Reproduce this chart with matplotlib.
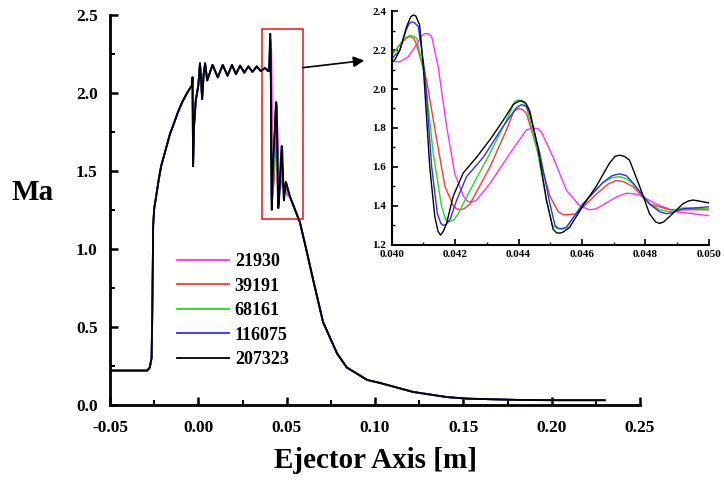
import numpy as np
import matplotlib.pyplot as plt
from matplotlib.patches import Rectangle
from matplotlib.ticker import MultipleLocator

plt.rcParams['font.family'] = ['Liberation Serif', 'DejaVu Serif']
plt.rcParams['font.weight'] = 'bold'

# shared part of the profile, before the shock train (x < 0.040)
x_up = [-0.050, -0.029, -0.0275, -0.0265, -0.0262, -0.0258, -0.0256, -0.0250, -0.0240,
        -0.0225, -0.0211, -0.0189, -0.0160, -0.0143, -0.0118, -0.0092, -0.0064, -0.0036,
        -0.0033, -0.0030, -0.0025, -0.0015, 0.0000, 0.0009, 0.0015, 0.0021, 0.0030, 0.0038,
        0.0050, 0.0080, 0.0110, 0.0138, 0.0165, 0.0190, 0.0213, 0.0236, 0.0260, 0.0283,
        0.0306, 0.0330, 0.0353, 0.0377, 0.0395]
ma_up = [0.22, 0.22, 0.24, 0.30, 0.50, 0.90, 1.15, 1.26, 1.33,
         1.44, 1.53, 1.62, 1.74, 1.79, 1.87, 1.94, 2.00, 2.05,
         2.10, 1.53, 1.78, 1.95, 2.05, 2.19, 2.10, 1.96, 2.12, 2.19,
         2.08, 2.18, 2.10, 2.18, 2.11, 2.18, 2.12, 2.175, 2.13, 2.17,
         2.135, 2.17, 2.14, 2.16, 2.14]

# shared part after the shock train (x > 0.050)
x_down = [0.052, 0.0575, 0.061, 0.065, 0.0706, 0.0785, 0.084, 0.0955, 0.103,
          0.1215, 0.1407, 0.152, 0.180, 0.200, 0.230]
ma_down = [1.33, 1.17, 1.00, 0.80, 0.53, 0.33, 0.24, 0.16, 0.14,
           0.083, 0.05, 0.04, 0.032, 0.030, 0.030]

# shock train region 0.040 - 0.050, one profile per mesh
labels = ['21930', '39191', '68161', '116075', '207323']
colors = ['#ff33ff', '#ff3838', '#22dd22', '#3030ff', 'black']

x_21930 = [0.0400, 0.04026, 0.04052, 0.04079, 0.04095, 0.04105, 0.04116, 0.04126, 0.04147,
           0.04173, 0.04199, 0.04226, 0.04238, 0.04247, 0.04257, 0.04268, 0.0431, 0.04373,
           0.04425, 0.04446, 0.04462, 0.04472, 0.04509, 0.04551, 0.04593, 0.04624, 0.04645,
           0.04666, 0.04708, 0.0474, 0.0476, 0.04782, 0.04834, 0.04897, 0.0500]
ma_21930 = [2.14, 2.14, 2.165, 2.23, 2.275, 2.285, 2.283, 2.27, 2.11,
            1.81, 1.565, 1.45, 1.425, 1.42, 1.422, 1.43, 1.515, 1.67,
            1.79, 1.80, 1.795, 1.78, 1.65, 1.48, 1.40, 1.38, 1.385,
            1.405, 1.445, 1.465, 1.463, 1.455, 1.41, 1.37, 1.35]

x_39191 = [0.0400, 0.04026, 0.04045, 0.04058, 0.0407, 0.04079, 0.0411, 0.04142, 0.04168,
           0.04194, 0.04205, 0.04215, 0.04228, 0.04247, 0.0431, 0.04362, 0.04385, 0.04399,
           0.04412, 0.04425, 0.04457, 0.04499, 0.04525, 0.0454, 0.04558, 0.04582, 0.04645,
           0.04685, 0.04708, 0.0473, 0.0476, 0.04813, 0.04876, 0.0500]
ma_39191 = [2.18, 2.225, 2.26, 2.27, 2.26, 2.225, 2.045, 1.74, 1.50,
            1.40, 1.385, 1.38, 1.385, 1.41, 1.60, 1.79, 1.885, 1.90,
            1.895, 1.875, 1.70, 1.45, 1.37, 1.355, 1.355, 1.36, 1.46,
            1.515, 1.53, 1.525, 1.50, 1.41, 1.38, 1.38]

x_68161 = [0.0400, 0.04026, 0.04045, 0.04058, 0.0407, 0.04079, 0.04105, 0.04131, 0.04157,
           0.0417, 0.04184, 0.04197, 0.0421, 0.04247, 0.0431, 0.04362, 0.04388, 0.04399,
           0.04412, 0.04425, 0.04457, 0.04488, 0.04507, 0.04519, 0.04535, 0.04551, 0.04603,
           0.04666, 0.04695, 0.04719, 0.0474, 0.0476, 0.04813, 0.04845, 0.04876, 0.04918, 0.0500]
ma_68161 = [2.17, 2.23, 2.265, 2.275, 2.27, 2.26, 2.06, 1.67, 1.40,
            1.33, 1.32, 1.33, 1.36, 1.48, 1.67, 1.84, 1.935, 1.945,
            1.935, 1.91, 1.70, 1.43, 1.30, 1.285, 1.282, 1.29, 1.41,
            1.52, 1.545, 1.55, 1.54, 1.515, 1.41, 1.38, 1.37, 1.39, 1.385]

x_116075 = [0.0400, 0.04026, 0.04045, 0.04055, 0.04063, 0.04072, 0.04084, 0.04105, 0.04126,
            0.04144, 0.04155, 0.04163, 0.04172, 0.04184, 0.04205, 0.04236, 0.04289, 0.04352,
            0.04394, 0.0441, 0.04424, 0.04435, 0.04467, 0.04499, 0.04515, 0.04525, 0.04537,
            0.04551, 0.04603, 0.04666, 0.04695, 0.04719, 0.0474, 0.0476, 0.04813, 0.04845,
            0.04866, 0.04885, 0.04918, 0.0500]
ma_116075 = [2.155, 2.20, 2.30, 2.335, 2.345, 2.34, 2.32, 2.08, 1.60,
             1.36, 1.31, 1.30, 1.305, 1.33, 1.43, 1.55, 1.65, 1.81,
             1.905, 1.92, 1.91, 1.875, 1.67, 1.41, 1.30, 1.285, 1.282,
             1.29, 1.41, 1.52, 1.555, 1.565, 1.555, 1.52, 1.41, 1.37,
             1.36, 1.365, 1.385, 1.395]

x_207323 = [0.0400, 0.0401, 0.04026, 0.04047, 0.0406, 0.04068, 0.04076, 0.04088, 0.0410,
            0.0412, 0.04136, 0.04146, 0.04154, 0.04163, 0.04173, 0.04194, 0.04226, 0.04268,
            0.0431, 0.04352, 0.04383, 0.04398, 0.04409, 0.04422, 0.04435, 0.04462, 0.04488,
            0.04509, 0.0452, 0.0453, 0.0454, 0.04561, 0.04603, 0.04645, 0.04687, 0.04705,
            0.04719, 0.04733, 0.0475, 0.04782, 0.04813, 0.04832, 0.04845, 0.04858, 0.04876,
            0.04918, 0.04935, 0.0495, 0.0497, 0.0500]
ma_207323 = [2.14, 2.15, 2.20, 2.32, 2.37, 2.38, 2.375, 2.33, 2.11,
             1.60, 1.345, 1.27, 1.25, 1.27, 1.31, 1.45, 1.57, 1.65,
             1.74, 1.84, 1.92, 1.935, 1.94, 1.93, 1.89, 1.69, 1.43,
             1.28, 1.262, 1.26, 1.265, 1.29, 1.40, 1.50, 1.62, 1.655,
             1.66, 1.655, 1.635, 1.50, 1.36, 1.318, 1.31, 1.318, 1.345,
             1.41, 1.425, 1.43, 1.425, 1.415]

x_zoom = [x_21930, x_39191, x_68161, x_116075, x_207323]
ma_zoom = [ma_21930, ma_39191, ma_68161, ma_116075, ma_207323]

fig = plt.figure(figsize=(7.24, 4.82), dpi=100)
ax = fig.add_axes([0.152, 0.160, 0.732, 0.809])

for lab, c, xs, ys in zip(labels, colors, x_zoom, ma_zoom):
    x_all = np.concatenate([x_up, xs, x_down])
    y_all = np.concatenate([ma_up, ys, ma_down])
    ax.plot(x_all, y_all, color=c, lw=1.3, label=lab)

ax.set_xlim(-0.05, 0.25)
ax.set_ylim(0, 2.5)
ax.xaxis.set_major_locator(MultipleLocator(0.05))
ax.xaxis.set_minor_locator(MultipleLocator(0.025))
ax.yaxis.set_major_locator(MultipleLocator(0.5))
ax.yaxis.set_minor_locator(MultipleLocator(0.25))
ax.set_xticklabels([f'{v:.2f}' for v in ax.get_xticks()])
ax.set_yticklabels([f'{v:.1f}' for v in ax.get_yticks()])
ax.tick_params(which='major', direction='in', length=6, width=1.8, labelsize=12.5, pad=9)
ax.tick_params(which='minor', direction='in', length=3.5, width=1.5)
ax.tick_params(axis='x', pad=11)
for s in ['top', 'right']:
    ax.spines[s].set_visible(False)
for s in ['left', 'bottom']:
    ax.spines[s].set_linewidth(2)

ax.set_xlabel('Ejector Axis [m]', fontsize=21, fontweight='bold', labelpad=8)
fig.text(0.045, 0.60, 'Ma', fontsize=21, fontweight='bold', ha='center', va='center')

leg = ax.legend(loc='upper left', bbox_to_anchor=(0.2445, 0.475), bbox_transform=fig.transFigure,
                frameon=False, fontsize=13, handlelength=2.9, handletextpad=0.3,
                labelspacing=0.42, borderpad=0, borderaxespad=0)
for t in leg.get_texts():
    t.set_fontweight('bold')

ax.add_patch(Rectangle((0.036, 1.19), 0.023, 1.22, fill=False, edgecolor='#ee2222', lw=1.2))
ax.annotate('', xy=(0.0955, 2.21), xytext=(0.0575, 2.16),
            arrowprops=dict(arrowstyle='-|>', color='black', lw=1.2, mutation_scale=16))

# inset
ins = fig.add_axes([0.541, 0.492, 0.438, 0.485])
for c, xs, ys in zip(colors, x_zoom, ma_zoom):
    ins.plot(xs, ys, color=c, lw=1.0)
ins.set_xlim(0.040, 0.050)
ins.set_ylim(1.2, 2.4)
ins.xaxis.set_major_locator(MultipleLocator(0.002))
ins.xaxis.set_minor_locator(MultipleLocator(0.001))
ins.yaxis.set_major_locator(MultipleLocator(0.2))
ins.yaxis.set_minor_locator(MultipleLocator(0.1))
ins.set_xticklabels([f'{v:.3f}' for v in ins.get_xticks()])
ins.set_yticklabels([f'{v:.1f}' for v in ins.get_yticks()])
ins.tick_params(which='major', direction='in', length=4, width=1.2, labelsize=8, pad=4)
ins.tick_params(which='minor', direction='in', length=2, width=1)
for s in ['top', 'right']:
    ins.spines[s].set_visible(False)
for s in ['left', 'bottom']:
    ins.spines[s].set_linewidth(1.5)
ins.patch.set_alpha(0)

fig.savefig('out.png', dpi=100)
